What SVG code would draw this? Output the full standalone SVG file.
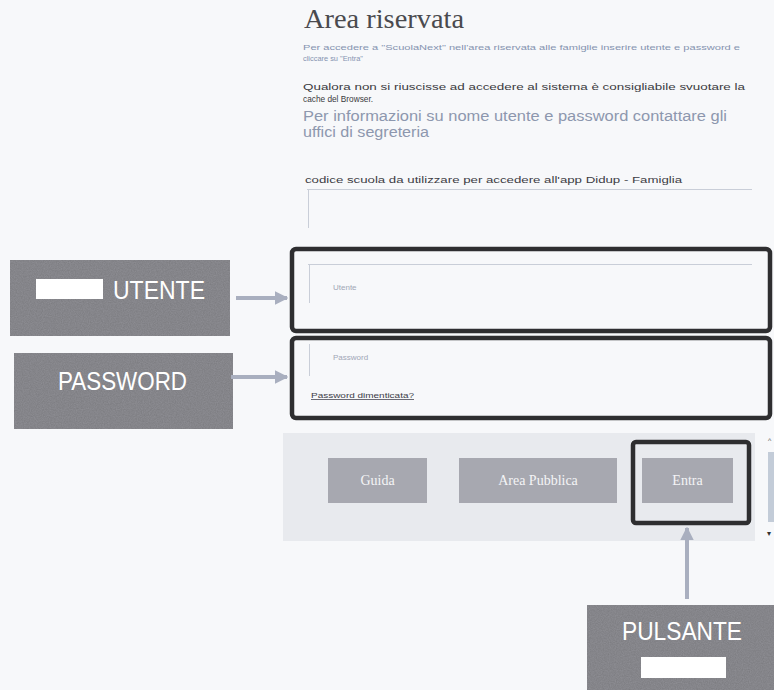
<svg xmlns="http://www.w3.org/2000/svg" width="774" height="690" viewBox="0 0 774 690">
<defs>
<filter id="grain" x="0" y="0" width="100%" height="100%">
<feTurbulence type="fractalNoise" baseFrequency="0.85" numOctaves="2" seed="3" result="n"/>
<feColorMatrix in="n" type="matrix" values="0 0 0 0 0  0 0 0 0 0  0 0 0 0 0  0 0 0 0.3 0" result="na"/>
<feComposite in="na" in2="SourceGraphic" operator="in" result="nm"/>
<feMerge><feMergeNode in="SourceGraphic"/><feMergeNode in="nm"/></feMerge>
</filter>
<marker id="ah" viewBox="0 0 10 10" refX="9" refY="5" markerWidth="3.4" markerHeight="3.4" orient="auto" markerUnits="strokeWidth">
<path d="M0,0 L10,5 L0,10 z" fill="#a9afbf"/>
</marker>
</defs>
<style>
.lbl{fill:#909095;filter:url(#grain)}
.lbltx{font-family:"Liberation Sans",Arial,sans-serif;fill:#ffffff}
.hl{fill:none;stroke:#2e2e30;stroke-width:4.5}
.btn{fill:#a7a8b0}
.btntx{font-family:"Liberation Serif","Times New Roman",serif;font-size:14px;fill:#f4f4f6;text-anchor:middle}
.sans{font-family:"Liberation Sans",Arial,sans-serif}
.conn{stroke:#a9afbf;stroke-width:4;fill:none}
.faint{stroke:#c9ced8;stroke-width:1;fill:none}
</style>
<rect width="774" height="690" fill="#f7f8fa"/>

<g id="page-text">
<text x="304" y="28" font-family="'Liberation Serif','Times New Roman',serif" font-size="27" fill="#4a4a4e" textLength="160" lengthAdjust="spacingAndGlyphs">Area riservata</text>
<text class="sans" x="303" y="50" font-size="7" fill="#8593b0" textLength="437" lengthAdjust="spacingAndGlyphs">Per accedere a "ScuolaNext" nell'area riservata alle famiglie inserire utente e password e</text>
<text class="sans" x="303" y="61" font-size="7" fill="#8593b0" textLength="60" lengthAdjust="spacingAndGlyphs">cliccare su "Entra"</text>
<text class="sans" x="303" y="90" font-size="9" fill="#3a3a40" textLength="442" lengthAdjust="spacingAndGlyphs">Qualora non si riuscisse ad accedere al sistema è consigliabile svuotare la</text>
<text class="sans" x="303" y="102" font-size="9" fill="#3a3a40" textLength="70" lengthAdjust="spacingAndGlyphs">cache del Browser.</text>
<text class="sans" x="303" y="121" font-size="14" fill="#8d97ae" textLength="424" lengthAdjust="spacingAndGlyphs">Per informazioni su nome utente e password contattare gli</text>
<text class="sans" x="303" y="137" font-size="14" fill="#8d97ae" textLength="126" lengthAdjust="spacingAndGlyphs">uffici di segreteria</text>
<text class="sans" x="305" y="183" font-size="8.5" fill="#3c3c44" textLength="377" lengthAdjust="spacingAndGlyphs">codice scuola da utilizzare per accedere all'app Didup - Famiglia</text>
<line class="faint" x1="307" y1="189.5" x2="752" y2="189.5"/>
<line class="faint" x1="308.5" y1="190" x2="308.5" y2="228"/>
</g>

<g id="utente-field">
<rect class="hl" x="292" y="249" width="478" height="82" rx="4"/>
<line class="faint" x1="308" y1="264.5" x2="752" y2="264.5"/>
<line class="faint" x1="309.5" y1="265" x2="309.5" y2="303"/>
<text class="sans" x="333" y="290" font-size="8" fill="#a0a6b6">Utente</text>
</g>

<g id="password-field">
<rect class="hl" x="292" y="338" width="478" height="80" rx="4"/>
<line class="faint" x1="309.5" y1="344" x2="309.5" y2="376"/>
<text class="sans" x="333" y="360" font-size="8" fill="#a0a6b6">Password</text>
<text class="sans" x="311" y="398" font-size="7.5" fill="#3c3c48" text-decoration="underline" textLength="103" lengthAdjust="spacingAndGlyphs">Password dimenticata?</text>
</g>

<g id="button-bar">
<rect x="283" y="433" width="472" height="108" fill="#e8eaee"/>
<rect x="768" y="452" width="6" height="70" fill="#c3ccd8"/>
<text x="768" y="443" class="sans" font-size="7" fill="#555">^</text>
<text x="767" y="536" class="sans" font-size="8" fill="#333">▾</text>
</g>

<g id="btn-guida">
<rect class="btn" x="328" y="458" width="99" height="45"/>
<text class="btntx" x="377.5" y="485">Guida</text>
</g>
<g id="btn-area-pubblica">
<rect class="btn" x="459" y="458" width="158" height="45"/>
<text class="btntx" x="538" y="485">Area Pubblica</text>
</g>
<g id="btn-entra">
<rect class="btn" x="642" y="458" width="91" height="45"/>
<text class="btntx" x="687.5" y="485">Entra</text>
<rect class="hl" x="633" y="442" width="116" height="81" rx="3"/>
</g>

<g id="label-utente">
<rect class="lbl" x="10" y="260" width="220" height="76"/>
<rect x="36" y="279" width="67" height="20" fill="#ffffff"/>
<text class="lbltx" x="113" y="299" font-size="26" textLength="92" lengthAdjust="spacingAndGlyphs">UTENTE</text>
</g>

<g id="label-password">
<rect class="lbl" x="14" y="353" width="219" height="76"/>
<text class="lbltx" x="58" y="390" font-size="25" textLength="129" lengthAdjust="spacingAndGlyphs">PASSWORD</text>
</g>

<g id="label-pulsante">
<rect class="lbl" x="587" y="605" width="187" height="85"/>
<text class="lbltx" x="622" y="640" font-size="25" textLength="120" lengthAdjust="spacingAndGlyphs">PULSANTE</text>
<rect x="641" y="657" width="85" height="21" fill="#ffffff"/>
</g>

<g id="connectors">
<line class="conn" x1="236" y1="298" x2="287" y2="298" marker-end="url(#ah)"/>
<line class="conn" x1="231" y1="377" x2="287" y2="377" marker-end="url(#ah)"/>
<line class="conn" x1="687" y1="599" x2="687" y2="528" marker-end="url(#ah)"/>
</g>
</svg>
